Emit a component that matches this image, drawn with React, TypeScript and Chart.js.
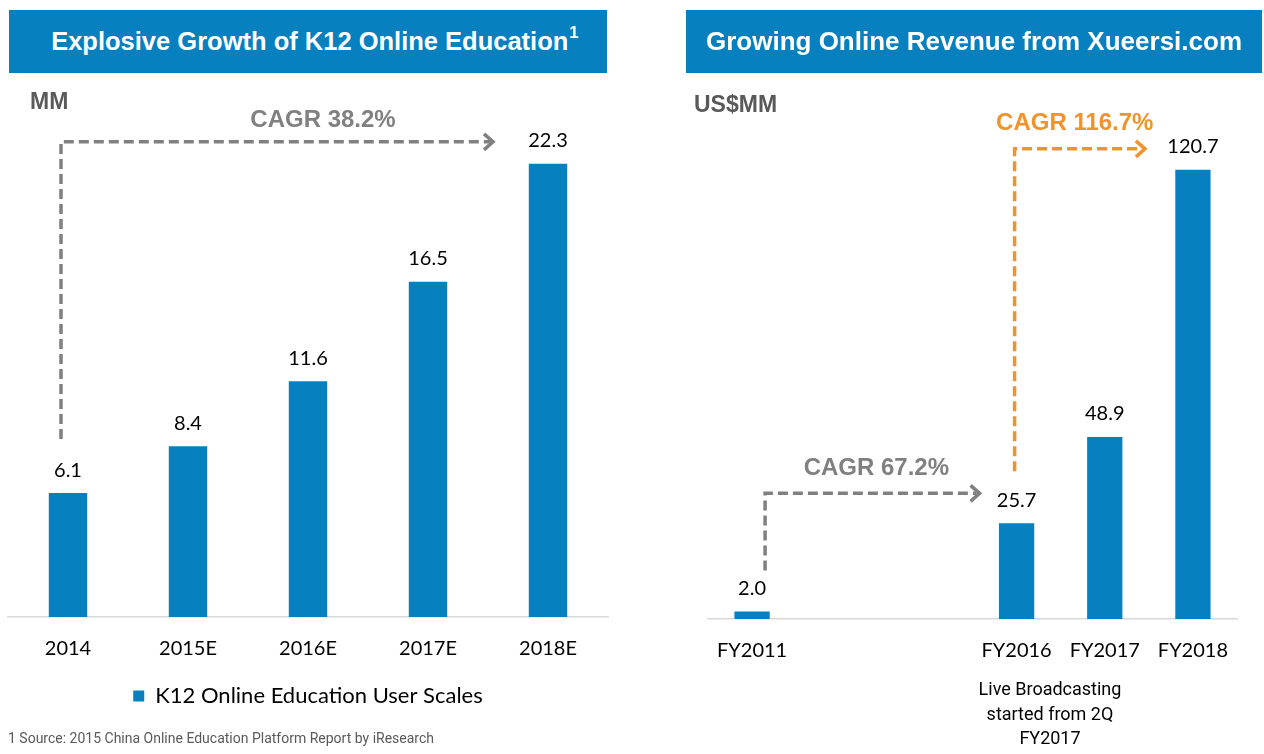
import React, { useEffect, useRef } from "react";
import { Chart, registerables } from "chart.js";

Chart.register(...registerables);

// ---------- data ----------
const leftTitle = "Explosive Growth of K12 Online Education";
const leftUnit = "MM";
const leftCategories = ["2014", "2015E", "2016E", "2017E", "2018E"];
const leftValues = [6.1, 8.4, 11.6, 16.5, 22.3];
const leftSeriesName = "K12 Online Education User Scales";
const leftFootnote = "1 Source: 2015 China Online Education Platform Report by iResearch";

const rightTitle = "Growing Online Revenue from Xueersi.com";
const rightUnit = "US$MM";
const rightCategories = ["FY2011", "", "", "FY2016", "FY2017", "FY2018"];
const rightValues: (number | null)[] = [2.0, null, null, 25.7, 48.9, 120.7];
const rightSeriesName = "Online Revenue";
const rightNoteLines = ["Live Broadcasting", "started from 2Q", "FY2017"];

const leftCagr = [{ label: "CAGR 38.2%", from: 0, to: 4 }];
const rightCagr = [
  { label: "CAGR 67.2%", from: 0, to: 3 },
  { label: "CAGR 116.7%", from: 3, to: 5 },
];

// ---------- styles ----------
const BLUE = "#0680BF";
const GRAY = "#808080";
const ORANGE = "#F0932B";
const NUM_FONT = "Lato";

type ArrowStyle = {
  color: string;
  sx: number;
  sy: number;
  hy: number;
  ex: number;
  lx: number;
  ly: number;
};

const leftArrowStyles: ArrowStyle[] = [
  { color: GRAY, sx: -7, sy: -54, hy: -22, ex: -55, lx: 46, ly: -21 },
];
const rightArrowStyles: ArrowStyle[] = [
  { color: GRAY, sx: 13, sy: -41, hy: -30, ex: -37, lx: 4, ly: -25 },
  { color: ORANGE, sx: -2, sy: -52, hy: -21, ex: -48, lx: -5, ly: -25 },
];

function makeAnnotPlugin(
  cagr: { label: string; from: number; to: number }[],
  styles: ArrowStyle[]
) {
  return {
    id: "annot",
    afterDatasetsDraw(chart: any) {
      const ctx = chart.ctx as CanvasRenderingContext2D;
      const meta = chart.getDatasetMeta(0);
      const data = chart.data.datasets[0].data as (number | null)[];
      ctx.save();
      ctx.font = `20px ${NUM_FONT}`;
      ctx.fillStyle = "#000";
      ctx.textAlign = "center";
      ctx.textBaseline = "middle";
      meta.data.forEach((bar: any, i: number) => {
        const v = data[i];
        if (v == null) return;
        ctx.fillText(v.toFixed(1), bar.x, bar.y - 23);
      });
      cagr.forEach((c, k) => {
        const st = styles[k];
        const b0 = meta.data[c.from];
        const b1 = meta.data[c.to];
        const x0 = b0.x + st.sx;
        const y0 = b0.y + st.sy;
        const yh = b1.y + st.hy;
        const xe = b1.x + st.ex;
        ctx.strokeStyle = st.color;
        ctx.lineWidth = 3.5;
        ctx.lineCap = "butt";
        ctx.setLineDash([10, 5]);
        ctx.beginPath();
        ctx.moveTo(x0, y0);
        ctx.lineTo(x0, yh);
        ctx.lineTo(xe - 3, yh);
        ctx.stroke();
        ctx.setLineDash([]);
        ctx.lineJoin = "miter";
        ctx.beginPath();
        ctx.moveTo(xe - 9, yh - 8);
        ctx.lineTo(xe, yh);
        ctx.lineTo(xe - 9, yh + 8);
        ctx.stroke();
        ctx.font = `bold 24px "Liberation Sans"`;
        ctx.fillStyle = st.color;
        ctx.textAlign = "center";
        ctx.textBaseline = "middle";
        ctx.fillText(c.label, (x0 + xe) / 2 + st.lx, yh + st.ly);
      });
      ctx.restore();
    },
  };
}

type PanelProps = {
  left: number;
  width: number;
  categories: string[];
  values: (number | null)[];
  seriesName: string;
  max: number;
  padding: { left: number; right: number; top: number; bottom: number };
  barPct: number;
  showLegend: boolean;
  cagr: { label: string; from: number; to: number }[];
  styles: ArrowStyle[];
};

function BarPanel(p: PanelProps) {
  const ref = useRef<HTMLCanvasElement | null>(null);
  useEffect(() => {
    if (!ref.current) return;
    const chart = new Chart(ref.current, {
      type: "bar",
      data: {
        labels: p.categories,
        datasets: [
          {
            label: p.seriesName,
            data: p.values as any,
            backgroundColor: BLUE,
            borderWidth: 0,
            barPercentage: p.barPct,
            categoryPercentage: 1,
          },
        ],
      },
      options: {
        responsive: false,
        animation: false,
        layout: { padding: p.padding },
        plugins: {
          legend: p.showLegend
            ? {
                display: true,
                position: "bottom",
                labels: {
                  boxWidth: 11,
                  boxHeight: 11,
                  padding: 4,
                  color: "#000",
                  font: { family: NUM_FONT, size: 22 },
                },
              }
            : { display: false },
          tooltip: { enabled: false },
          title: { display: false },
        },
        scales: {
          x: {
            grid: { display: false, drawTicks: false },
            border: { display: true, color: "#D9D9D9", width: 1.5 },
            ticks: {
              padding: 20,
              color: "#000",
              font: { family: NUM_FONT, size: 20 },
              autoSkip: false,
              maxRotation: 0,
            },
          },
          y: { display: false, min: 0, max: p.max },
        },
      },
      plugins: [makeAnnotPlugin(p.cagr, p.styles)],
    });
    return () => chart.destroy();
  }, []);
  return (
    <canvas
      ref={ref}
      width={p.width}
      height={754}
      style={{ position: "absolute", left: p.left, top: 0, width: p.width, height: 754 }}
    />
  );
}

const headerStyle: React.CSSProperties = {
  position: "absolute",
  top: 10,
  height: 63,
  background: BLUE,
  color: "#fff",
  fontFamily: '"Liberation Sans", Arial, sans-serif',
  fontWeight: "bold",
  fontSize: 26,
  display: "flex",
  alignItems: "center",
  justifyContent: "center",
  whiteSpace: "nowrap",
  boxSizing: "border-box",
};

const unitStyle: React.CSSProperties = {
  position: "absolute",
  fontFamily: '"Liberation Sans", Arial, sans-serif',
  fontWeight: "bold",
  fontSize: 23,
  color: "#595959",
  lineHeight: "26px",
  height: 26,
  whiteSpace: "nowrap",
};

export default function App() {
  return (
    <div
      style={{
        position: "absolute",
        left: 0,
        top: 0,
        width: 1264,
        height: 754,
        background: "#fff",
        overflow: "hidden",
      }}
    >
      <BarPanel
        left={0}
        width={640}
        categories={leftCategories}
        values={leftValues}
        seriesName={leftSeriesName}
        max={25}
        padding={{ left: 8, right: 32, top: 109, bottom: 37 }}
        barPct={0.32}
        showLegend={true}
        cagr={leftCagr}
        styles={leftArrowStyles}
      />
      <BarPanel
        left={640}
        width={624}
        categories={rightCategories}
        values={rightValues}
        seriesName={rightSeriesName}
        max={140}
        padding={{ left: 68, right: 27, top: 98, bottom: 71 }}
        barPct={0.4}
        showLegend={false}
        cagr={rightCagr}
        styles={rightArrowStyles}
      />
      <div style={{ ...headerStyle, left: 9, width: 598, paddingLeft: 14, fontSize: 25.5 }}>
        {leftTitle}
        <span style={{ fontSize: 17, position: "relative", top: -9, marginLeft: 1 }}>1</span>
      </div>
      <div style={{ ...headerStyle, left: 686, width: 576 }}>{rightTitle}</div>
      <div style={{ ...unitStyle, left: 30, top: 88 }}>{leftUnit}</div>
      <div style={{ ...unitStyle, left: 694, top: 91 }}>{rightUnit}</div>
      <div
        style={{
          position: "absolute",
          left: 8,
          top: 729,
          height: 18,
          lineHeight: "18px",
          fontFamily: "Roboto, sans-serif",
          fontSize: 14,
          color: "#595959",
          whiteSpace: "nowrap",
        }}
      >
        {leftFootnote}
      </div>
      <div
        style={{
          position: "absolute",
          left: 950,
          width: 200,
          top: 677,
          textAlign: "center",
          fontFamily: "Roboto, sans-serif",
          fontSize: 18,
          lineHeight: "24.5px",
          color: "#000",
        }}
      >
        {rightNoteLines.map((l, i) => (
          <div key={i}>{l}</div>
        ))}
      </div>
    </div>
  );
}
